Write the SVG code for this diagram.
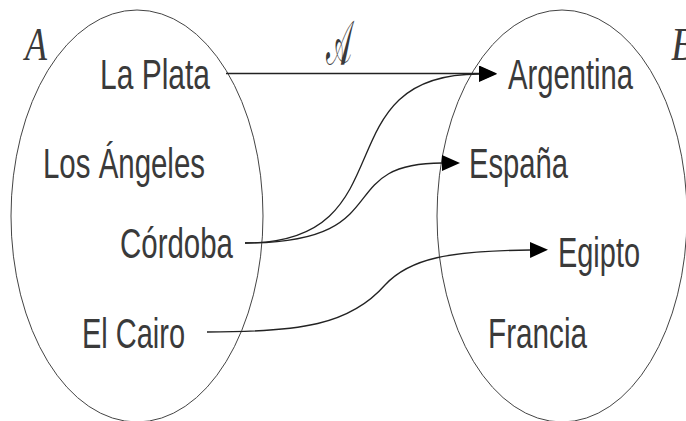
<svg xmlns="http://www.w3.org/2000/svg" width="686" height="421" viewBox="0 0 686 421">
<style>
.set{fill:none;stroke:#444;stroke-width:1}
.lbl{font-family:"Liberation Sans Narrow","Liberation Sans",Arial,sans-serif;font-size:42px;fill:#3a3a3a}
.name{font-family:"Liberation Serif","DejaVu Serif",serif;font-style:italic;font-size:46px;fill:#3a3a3a}
.conn{fill:none;stroke:#222;stroke-width:1.3}
</style>
<defs>
<marker id="arr" markerUnits="userSpaceOnUse" markerWidth="20" markerHeight="18" refX="0" refY="8" orient="auto">
<path d="M0,0 L18,8 L0,16 Z" fill="#000"/>
</marker>
</defs>
<rect width="686" height="421" fill="#fff"/>
<g id="setA">
<ellipse class="set" cx="137" cy="216" rx="126" ry="206"/>
<text class="name" x="25" y="60" textLength="22" lengthAdjust="spacingAndGlyphs">A</text>
</g>
<g id="setB">
<ellipse class="set" cx="562" cy="216" rx="125" ry="206"/>
<text class="name" x="671" y="60" textLength="24" lengthAdjust="spacingAndGlyphs">B</text>
</g>
<g id="n-laplata"><text class="lbl" x="100" y="89" textLength="110" lengthAdjust="spacingAndGlyphs">La Plata</text></g>
<g id="n-losangeles"><text class="lbl" x="43" y="178" textLength="162" lengthAdjust="spacingAndGlyphs">Los Ángeles</text></g>
<g id="n-cordoba"><text class="lbl" x="120" y="258" textLength="113" lengthAdjust="spacingAndGlyphs">Córdoba</text></g>
<g id="n-elcairo"><text class="lbl" x="82" y="348" textLength="103" lengthAdjust="spacingAndGlyphs">El Cairo</text></g>
<g id="n-argentina"><text class="lbl" x="508" y="89" textLength="125" lengthAdjust="spacingAndGlyphs">Argentina</text></g>
<g id="n-espana"><text class="lbl" x="469" y="178" textLength="99" lengthAdjust="spacingAndGlyphs">España</text></g>
<g id="n-egipto"><text class="lbl" x="558" y="267" textLength="82" lengthAdjust="spacingAndGlyphs">Egipto</text></g>
<g id="n-francia"><text class="lbl" x="488" y="348" textLength="99" lengthAdjust="spacingAndGlyphs">Francia</text></g>
<g id="connectors">
<path class="conn" d="M226,73.5 L479,73.5" marker-end="url(#arr)"/>
<text x="326" y="64" textLength="26" lengthAdjust="spacingAndGlyphs" style="font-family:'DejaVu Serif','Noto Sans',serif;font-size:62px;fill:#3a3a3a">𝒜</text>
<path class="conn" d="M245,243 C410,243 320,74 479,74" marker-end="url(#arr)"/>
<path class="conn" d="M245,243 C400,243 330,163 442,163" marker-end="url(#arr)"/>
<path class="conn" d="M207,332 C300,332 350,325 385,285 C410,258 450,251 530,250" marker-end="url(#arr)"/>
</g>
</svg>
